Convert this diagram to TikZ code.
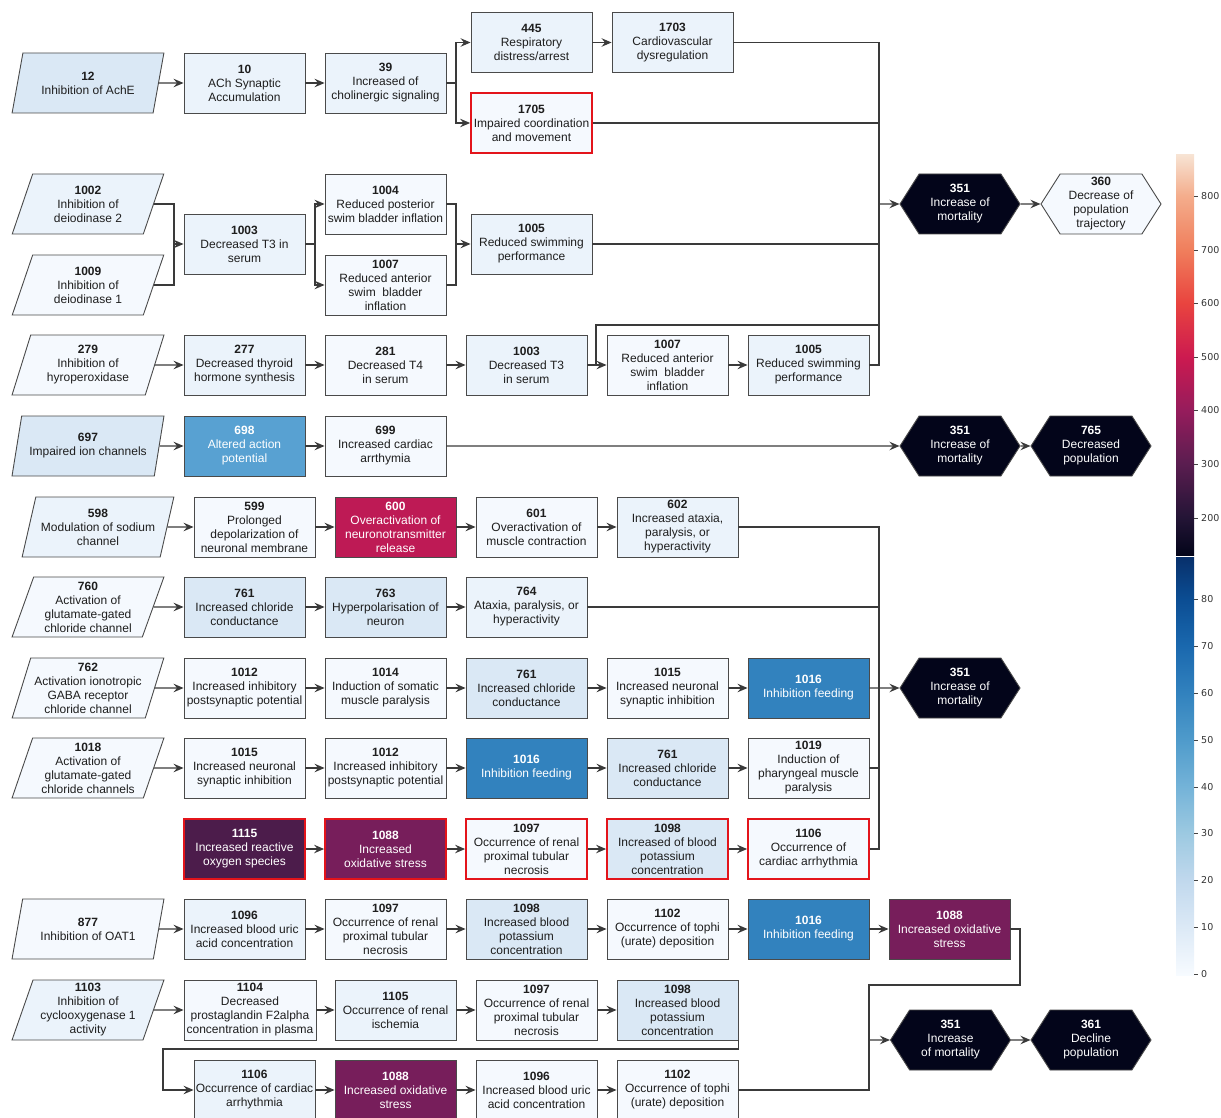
\documentclass[tikz,border=0pt]{standalone}
\usepackage{fontspec}
\setmainfont{Liberation Sans}
\newfontfamily\barfont{DejaVu Sans}
\usetikzlibrary{arrows.meta, shapes.geometric, shapes.symbols}

% --- colours ---
\definecolor{edgeGray}{HTML}{4A4A4A}
\definecolor{lineGray}{HTML}{3A3A3A}
\definecolor{txtDark}{HTML}{1E1E1E}
\definecolor{flagRed}{HTML}{E3141B}
\definecolor{kePale}{HTML}{F5F9FE}
\definecolor{keLight}{HTML}{EBF3FB}
\definecolor{keSky}{HTML}{DAE8F5}
\definecolor{keBlue}{HTML}{58A1D2}
\definecolor{keDeep}{HTML}{3282BE}
\definecolor{keCrimson}{HTML}{BE1A55}
\definecolor{kePlum}{HTML}{771E5B}
\definecolor{keAubergine}{HTML}{4C1C4B}
\definecolor{keInk}{HTML}{03051A}
\definecolor{tickGray}{HTML}{444444}
\definecolor{labelGray}{HTML}{333333}
\definecolor{rk1}{HTML}{231435}
\definecolor{rk2}{HTML}{5A1D50}
\definecolor{rk3}{HTML}{961C5C}
\definecolor{rk4}{HTML}{CC1A50}
\definecolor{rk5}{HTML}{E9443F}
\definecolor{rk6}{HTML}{F07E5C}
\definecolor{rk7}{HTML}{F4AD8C}
\definecolor{rk8}{HTML}{F7E3D3}
\definecolor{bl0}{HTML}{F7FBFF}
\definecolor{bl1}{HTML}{DCE9F6}
\definecolor{bl2}{HTML}{C0D8ED}
\definecolor{bl3}{HTML}{9CC9E1}
\definecolor{bl4}{HTML}{74B3D8}
\definecolor{bl5}{HTML}{4F9BCB}
\definecolor{bl6}{HTML}{3282BE}
\definecolor{bl7}{HTML}{1A68AE}
\definecolor{bl8}{HTML}{0B4D93}
\definecolor{bl9}{HTML}{08306B}

% --- colour bar shadings (path box = 25bp..75bp) ---
\pgfdeclareverticalshading{rocketbar}{100bp}{%
  color(0bp)=(keInk); color(25bp)=(keInk);
  color(29.6bp)=(rk1); color(36.4bp)=(rk2);
  color(43.1bp)=(rk3); color(49.75bp)=(rk4);
  color(56.5bp)=(rk5); color(63.1bp)=(rk6);
  color(69.9bp)=(rk7); color(75bp)=(rk8);
  color(100bp)=(rk8)}
\pgfdeclareverticalshading{bluesbar}{100bp}{%
  color(0bp)=(bl0); color(25bp)=(bl0);
  color(30.7bp)=(bl1); color(36.4bp)=(bl2);
  color(42bp)=(bl3); color(47.5bp)=(bl4);
  color(53.1bp)=(bl5); color(58.7bp)=(bl6);
  color(64.4bp)=(bl7); color(70bp)=(bl8);
  color(75bp)=(bl9); color(100bp)=(bl9)}

\newcommand{\evt}[2]{\textbf{#1}\\#2}

\begin{document}
\begin{tikzpicture}[x=1pt, y=-1pt, >=Stealth,
    box/.style={rectangle, draw=edgeGray, line width=0.9pt, minimum width=121pt,
      minimum height=60pt, inner sep=1pt, align=center,
      font=\fontsize{12}{14}\selectfont, text=txtDark},
    mie/.style={trapezium, trapezium left angle=71, trapezium right angle=109,
      trapezium stretches=true, draw=edgeGray, line width=0.9pt,
      minimum width=152pt, minimum height=60pt, inner sep=0pt, align=center,
      font=\fontsize{12}{14}\selectfont, text=txtDark},
    ao/.style={signal, signal to=east and west, signal pointer angle=115,
      draw=edgeGray, line width=0.9pt, minimum width=120pt, minimum height=60pt,
      inner sep=0pt, align=center, font=\fontsize{12}{14}\selectfont,
      fill=keInk, text=white},
    hot/.style={draw=flagRed, line width=1.8pt},
    lite/.style={text=white},
    wire/.style={draw=lineGray, line width=1.1pt},
    flow/.style={wire, -{Stealth[length=10pt, width=8.5pt, inset=3.5pt]}},
    tickline/.style={draw=tickGray, line width=0.8pt},
    barlabel/.style={anchor=west, inner sep=0pt, text=labelGray,
      font=\barfont\fontsize{9.5}{11}\selectfont}
  ]
  \useasboundingbox (0,0) rectangle (1221,1118);

  % --- row 1: AChE ---
  \node[mie, fill=keSky] (a12) at (88,83) {\evt{12}{Inhibition of AchE}};
  \node[box, fill=keLight] (a10) at (244.5,83) {\evt{10}{ACh Synaptic\\Accumulation}};
  \node[box, fill=keLight] (a39) at (385.5,83) {\evt{39}{Increased of\\cholinergic signaling}};
  \node[box, fill=keLight] (a445) at (531.5,42.5) {\evt{445}{Respiratory\\distress/arrest}};
  \node[box, fill=keLight] (a1703) at (672.5,42.5) {\evt{1703}{Cardiovascular\\dysregulation}};
  \node[box, hot, fill=kePale] (a1705) at (531.5,123) {\evt{1705}{Impaired coordination\\and movement}};
  \node[ao] (aMort) at (960,204) {\evt{351}{Increase of\\mortality}};
  \node[ao, fill=kePale, text=txtDark] (a360) at (1101,204) {\evt{360}{Decrease of\\population\\trajectory}};

  % --- row 2: deiodinases ---
  \node[mie, fill=keLight] (b1002) at (88,204) {\evt{1002}{Inhibition of\\deiodinase 2}};
  \node[mie, fill=kePale] (b1009) at (88,285) {\evt{1009}{Inhibition of\\deiodinase 1}};
  \node[box, fill=keLight] (b1003) at (244.5,244) {\evt{1003}{Decreased T3 in\\serum}};
  \node[box, fill=kePale] (b1004) at (385.5,204) {\evt{1004}{Reduced posterior\\swim bladder inflation}};
  \node[box, fill=kePale] (b1007) at (385.5,285) {\evt{1007}{Reduced anterior\\swim~ bladder\\inflation}};
  \node[box, fill=keLight] (b1005) at (531.5,244) {\evt{1005}{Reduced swimming\\performance}};

  % --- row 3: thyroperoxidase ---
  \node[mie, fill=kePale] (c279) at (88,365) {\evt{279}{Inhibition of\\hyroperoxidase}};
  \node[box, fill=keLight] (c277) at (244.5,365) {\evt{277}{Decreased thyroid\\hormone synthesis}};
  \node[box, fill=kePale] (c281) at (385.5,365) {\evt{281}{Decreased T4\\in serum}};
  \node[box, fill=keLight] (c1003) at (526.5,365) {\evt{1003}{Decreased T3\\in serum}};
  \node[box, fill=kePale] (c1007) at (667.5,365) {\evt{1007}{Reduced anterior\\swim~ bladder\\inflation}};
  \node[box, fill=keLight] (c1005) at (808.5,365) {\evt{1005}{Reduced swimming\\performance}};

  % --- row 4: ion channels ---
  \node[mie, fill=keSky] (d697) at (88,446) {\evt{697}{Impaired ion channels}};
  \node[box, lite, fill=keBlue] (d698) at (244.5,446) {\evt{698}{Altered action\\potential}};
  \node[box, fill=kePale] (d699) at (385.5,446) {\evt{699}{Increased cardiac\\arrthymia}};
  \node[ao] (dMort) at (960,446) {\evt{351}{Increase of\\mortality}};
  \node[ao] (d765) at (1091,446) {\evt{765}{Decreased\\population}};

  % --- row 5: sodium channel ---
  \node[mie, fill=keLight] (e598) at (98,527) {\evt{598}{Modulation of sodium\\channel}};
  \node[box, fill=kePale] (e599) at (254.5,527) {\evt{599}{Prolonged\\depolarization of\\neuronal membrane}};
  \node[box, lite, fill=keCrimson] (e600) at (395.5,527) {\evt{600}{Overactivation of\\neuronotransmitter\\release}};
  \node[box, fill=kePale] (e601) at (536.5,527) {\evt{601}{Overactivation of\\muscle contraction}};
  \node[box, fill=keLight] (e602) at (677.5,527) {\evt{602}{Increased ataxia,\\paralysis, or\\hyperactivity}};

  % --- row 6: glutamate-gated channel ---
  \node[mie, fill=kePale] (f760) at (88,607) {\evt{760}{Activation of\\glutamate-gated\\chloride channel}};
  \node[box, fill=keSky] (f761) at (244.5,607) {\evt{761}{Increased chloride\\conductance}};
  \node[box, fill=keSky] (f763) at (385.5,607) {\evt{763}{Hyperpolarisation of\\neuron}};
  \node[box, fill=keLight] (f764) at (526.5,607) {\evt{764}{Ataxia, paralysis, or\\hyperactivity}};

  % --- row 7: GABA receptor ---
  \node[mie, fill=kePale] (g762) at (88,688) {\evt{762}{Activation ionotropic\\GABA receptor\\chloride channel}};
  \node[box, fill=kePale] (g1012) at (244.5,688) {\evt{1012}{Increased inhibitory\\postsynaptic potential}};
  \node[box, fill=kePale] (g1014) at (385.5,688) {\evt{1014}{Induction of somatic\\muscle paralysis}};
  \node[box, fill=keSky] (g761) at (526.5,688) {\evt{761}{Increased chloride\\conductance}};
  \node[box, fill=kePale] (g1015) at (667.5,688) {\evt{1015}{Increased neuronal\\synaptic inhibition}};
  \node[box, lite, fill=keDeep] (g1016) at (808.5,688) {\evt{1016}{Inhibition feeding}};
  \node[ao] (gMort) at (960,688) {\evt{351}{Increase of\\mortality}};

  % --- row 8: glutamate-gated channels ---
  \node[mie, fill=kePale] (h1018) at (88,768) {\evt{1018}{Activation of\\glutamate-gated\\chloride channels}};
  \node[box, fill=kePale] (h1015) at (244.5,768) {\evt{1015}{Increased neuronal\\synaptic inhibition}};
  \node[box, fill=kePale] (h1012) at (385.5,768) {\evt{1012}{Increased inhibitory\\postsynaptic potential}};
  \node[box, lite, fill=keDeep] (h1016) at (526.5,768) {\evt{1016}{Inhibition feeding}};
  \node[box, fill=keSky] (h761) at (667.5,768) {\evt{761}{Increased chloride\\conductance}};
  \node[box, fill=kePale] (h1019) at (808.5,768) {\evt{1019}{Induction of\\pharyngeal muscle\\paralysis}};

  % --- row 9: oxidative stress (flagged) ---
  \node[box, hot, lite, fill=keAubergine] (i1115) at (244.5,849) {\evt{1115}{Increased reactive\\oxygen species}};
  \node[box, hot, lite, fill=kePlum] (i1088) at (385.5,849) {\evt{1088}{Increased\\oxidative stress}};
  \node[box, hot, fill=kePale] (i1097) at (526.5,849) {\evt{1097}{Occurrence of renal\\proximal tubular\\necrosis}};
  \node[box, hot, fill=keSky] (i1098) at (667.5,849) {\evt{1098}{Increased of blood\\potassium\\concentration}};
  \node[box, hot, fill=kePale] (i1106) at (808.5,849) {\evt{1106}{Occurrence of\\cardiac arrhythmia}};

  % --- row 10: OAT1 ---
  \node[mie, fill=kePale] (j877) at (88,929) {\evt{877}{Inhibition of OAT1}};
  \node[box, fill=keLight] (j1096) at (244.5,929) {\evt{1096}{Increased blood uric\\acid concentration}};
  \node[box, fill=kePale] (j1097) at (385.5,929) {\evt{1097}{Occurrence of renal\\proximal tubular\\necrosis}};
  \node[box, fill=keSky] (j1098) at (526.5,929) {\evt{1098}{Increased blood\\potassium\\concentration}};
  \node[box, fill=kePale] (j1102) at (667.5,929) {\evt{1102}{Occurrence of tophi\\(urate) deposition}};
  \node[box, lite, fill=keDeep] (j1016) at (808.5,929) {\evt{1016}{Inhibition feeding}};
  \node[box, lite, fill=kePlum] (j1088) at (949.5,929) {\evt{1088}{Increased oxidative\\stress}};

  % --- row 11: cyclooxygenase ---
  \node[mie, fill=keLight] (k1103) at (88,1010) {\evt{1103}{Inhibition of\\cyclooxygenase 1\\activity}};
  \node[box, fill=kePale, minimum width=132pt] (k1104) at (250,1010) {\evt{1104}{Decreased\\prostaglandin F2alpha\\concentration in plasma}};
  \node[box, fill=keLight] (k1105) at (395.5,1010) {\evt{1105}{Occurrence of renal\\ischemia}};
  \node[box, fill=kePale] (k1097) at (536.5,1010) {\evt{1097}{Occurrence of renal\\proximal tubular\\necrosis}};
  \node[box, fill=keSky] (k1098) at (677.5,1010) {\evt{1098}{Increased blood\\potassium\\concentration}};

  % --- row 12: continued ---
  \node[box, fill=keLight] (l1106) at (254.5,1090) {\evt{1106}{Occurrence of cardiac\\arrhythmia}};
  \node[box, lite, fill=kePlum] (l1088) at (395.5,1090) {\evt{1088}{Increased oxidative\\stress}};
  \node[box, fill=kePale] (l1096) at (536.5,1090) {\evt{1096}{Increased blood uric\\acid concentration}};
  \node[box, fill=kePale] (l1102) at (677.5,1090) {\evt{1102}{Occurrence of tophi\\(urate) deposition}};
  \node[ao] (lMort) at (950.5,1040) {\evt{351}{Increase\\of mortality}};
  \node[ao] (l361) at (1091,1040) {\evt{361}{Decline\\population}};

  % --- bends and buses ---
  \coordinate (busR) at (879,0);
  \coordinate (busL) at (869,0);
  \coordinate (aFork) at (456,83);
  \coordinate (bJoin) at (174,244);
  \coordinate (bFork) at (315,244);
  \coordinate (bMerge) at (456,244);
  \coordinate (cJoin) at (596,325);
  \coordinate (jTurn) at (1020,985);
  \coordinate (kLoop) at (163,1049);

  % --- connectors ---
  \draw[flow] (a12) -- (a10);
  \draw[flow] (a10) -- (a39);
  \draw[wire] (a39) -- (aFork);
  \draw[flow] (aFork) |- (a445);
  \draw[flow] (aFork) |- (a1705);
  \draw[flow] (a445) -- (a1703);
  \draw[wire] (a1703.east) -| (c1005.east -| busR) -- (c1005.east);
  \draw[wire] (a1705) -- (a1705 -| busR);
  \draw[flow] (aMort -| busR) -- (aMort);
  \draw[flow] (aMort) -- (a360);

  \draw[wire] (b1002.east) -| (bJoin) |- (b1009.east);
  \draw[flow] (bJoin) -- (b1003);
  \draw[wire] (b1003) -- (bFork);
  \draw[flow] (bFork) |- (b1004);
  \draw[flow] (bFork) |- (b1007);
  \draw[wire] (b1004.east) -| (bMerge) |- (b1007.east);
  \draw[flow] (bMerge) -- (b1005);
  \draw[wire] (b1005) -- (b1005 -| busR);

  \draw[flow] (c279) -- (c277);
  \draw[flow] (c277) -- (c281);
  \draw[flow] (c281) -- (c1003);
  \draw[flow] (c1003) -- (c1007);
  \draw[flow] (c1007) -- (c1005);
  \draw[wire] (c1003 -| cJoin) |- (cJoin -| busR);

  \draw[flow] (d697) -- (d698);
  \draw[flow] (d698) -- (d699);
  \draw[flow] (d699) -- (dMort);
  \draw[flow] (dMort) -- (d765);

  \draw[flow] (e598) -- (e599);
  \draw[flow] (e599) -- (e600);
  \draw[flow] (e600) -- (e601);
  \draw[flow] (e601) -- (e602);
  \draw[wire] (e602.east) -| (i1106.east -| busR) -- (i1106.east);

  \draw[flow] (f760) -- (f761);
  \draw[flow] (f761) -- (f763);
  \draw[flow] (f763) -- (f764);
  \draw[wire] (f764) -- (f764 -| busR);

  \draw[flow] (g762) -- (g1012);
  \draw[flow] (g1012) -- (g1014);
  \draw[flow] (g1014) -- (g761);
  \draw[flow] (g761) -- (g1015);
  \draw[flow] (g1015) -- (g1016);
  \draw[flow] (g1016) -- (gMort);

  \draw[flow] (h1018) -- (h1015);
  \draw[flow] (h1015) -- (h1012);
  \draw[flow] (h1012) -- (h1016);
  \draw[flow] (h1016) -- (h761);
  \draw[flow] (h761) -- (h1019);
  \draw[wire] (h1019) -- (h1019 -| busR);

  \draw[flow] (i1115) -- (i1088);
  \draw[flow] (i1088) -- (i1097);
  \draw[flow] (i1097) -- (i1098);
  \draw[flow] (i1098) -- (i1106);

  \draw[flow] (j877) -- (j1096);
  \draw[flow] (j1096) -- (j1097);
  \draw[flow] (j1097) -- (j1098);
  \draw[flow] (j1098) -- (j1102);
  \draw[flow] (j1102) -- (j1016);
  \draw[flow] (j1016) -- (j1088);
  \draw[wire] (j1088.east) -| (jTurn) -| (l1102.east -| busL) -- (l1102.east);

  \draw[flow] (k1103) -- (k1104);
  \draw[flow] (k1104) -- (k1105);
  \draw[flow] (k1105) -- (k1097);
  \draw[flow] (k1097) -- (k1098);
  \draw[flow] (k1098.south east) |- (kLoop) |- (l1106);

  \draw[flow] (l1106) -- (l1088);
  \draw[flow] (l1088) -- (l1096);
  \draw[flow] (l1096) -- (l1102);
  \draw[flow] (lMort -| busL) -- (lMort);
  \draw[flow] (lMort) -- (l361);

  % --- colour bar ---
  \shade[shading=rocketbar] (1176,155) rectangle (1194,555);
  \shade[shading=bluesbar] (1176,557) rectangle (1194,975);
  \foreach \v/\y in {800/196, 700/250, 600/303, 500/357, 400/410, 300/464, 200/518,
                     80/599, 70/646, 60/693, 50/740, 40/787, 30/833, 20/880, 10/927, 0/974} {
    \draw[tickline] (1194,\y) -- (1198,\y);
    \node[barlabel] (tick\v) at (1201,\y) {\v};
  }
\end{tikzpicture}
\end{document}
